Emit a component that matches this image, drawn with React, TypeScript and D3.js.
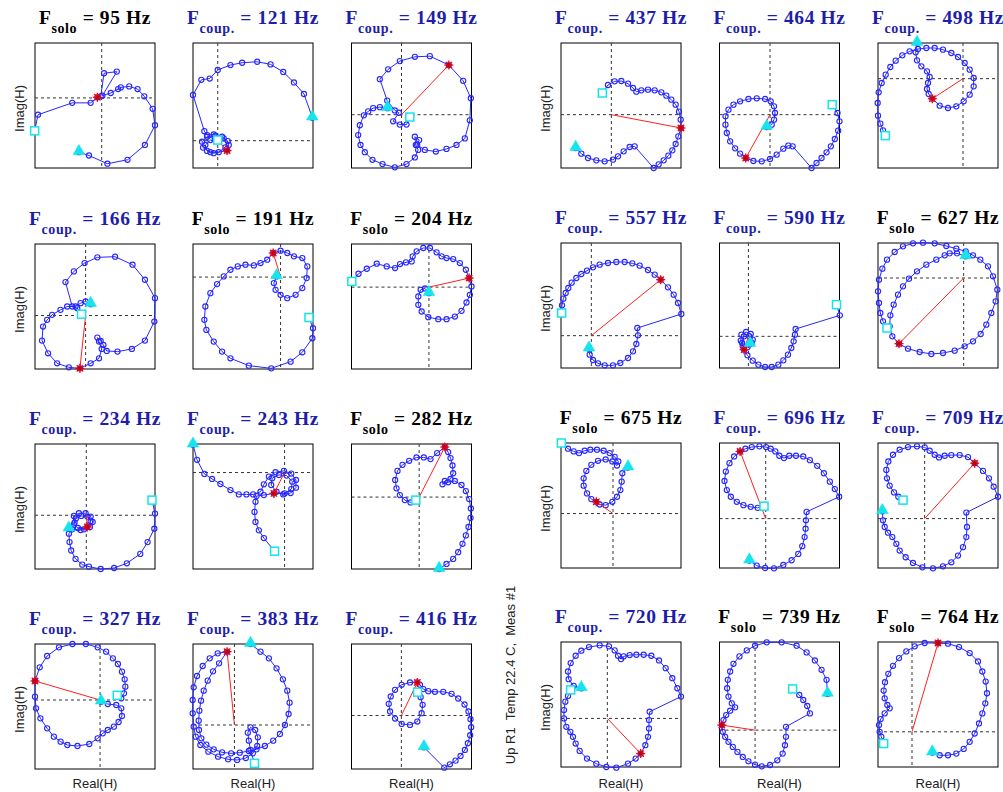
import React from 'react';
import * as d3 from 'd3';

// mode frequencies and whether each mode is "solo" or "coupled"
const freqs = [95, 121, 149, 166, 191, 204, 234, 243, 282, 327, 383, 416, 437, 464, 498, 557, 590, 627, 675, 696, 709, 720, 739, 764];
const kinds = ['solo', 'coup.', 'coup.', 'coup.', 'solo', 'solo', 'coup.', 'coup.', 'solo', 'coup.', 'coup.', 'coup.',
  'coup.', 'coup.', 'coup.', 'coup.', 'coup.', 'solo', 'solo', 'coup.', 'coup.', 'coup.', 'solo', 'solo'];

// axis limits (Real, Imag) for each panel
const realLimits = [[-199, 159], [-74, 285], [-150, 210], [-151, 207], [-262, 97], [-233, 128], [-153, 205], [-274, 85], [-203, 157], [-193, 163], [-124, 235], [-150, 211],
  [-151, 209], [-152, 209], [-255, 105], [-91, 269], [-87, 274], [-257, 103], [-156, 204], [-139, 222], [-140, 220], [-139, 221], [-107, 254], [-102, 258]];
const imagLimits = [[-213, 167], [-83, 297], [-162, 218], [-160, 214], [-275, 99], [-245, 129], [-160, 212], [-287, 85], [-214, 158], [-207, 168], [-132, 243], [-160, 214],
  [-160, 215], [-160, 215], [-268, 107], [-97, 278], [-95, 280], [-270, 105], [-162, 210], [-147, 225], [-147, 225], [-145, 228], [-110, 263], [-105, 268]];

// peak response point (red star) per panel
const peaks = [[-13, 2], [28, -30], [142, 151], [-17, -158], [-22, 72], [121, 27], [3, -35], [-32, -62], [77, 149], [-193, 57], [-22, 220], [48, 99],
  [209, -40], [-73, -130], [-92, -60], [208, 168], [-13, -40], [-194, -197], [-50, 35], [-77, 200], [150, 165], [100, -105], [-100, 15], [78, 265]];

// Nyquist curves: [Real(H), Imag(H)], first point = triangle, last point = square
const h095 = [[-68, -165], [-38, -175], [17, -200], [77, -188], [129, -143], [159, -83], [152, -33], [127, 5], [107, 27], [82, 35], [57, 32], [49, 27], [27, 15], [2, 7], [45, 80], [7, 75], [-3, 5], [-13, 2], [-33, -15], [-88, -15], [-190, -51], [-200, -100]];
const h121 = [[283, 70], [258, 142], [228, 177], [196, 209], [158, 232], [118, 240], [73, 237], [38, 230], [0, 215], [-24, 189], [-49, 185], [-74, 139], [-40, 29], [-32, 17], [-12, 19], [13, 12], [30, -1], [23, -20], [3, -35], [-22, -35], [-44, -21], [-47, -3], [-32, 12], [-7, 15], [18, 7], [33, -13], [28, -30], [-12, -38], [-32, -31], [-37, -13], [-22, 2], [0, 2]];
const h149 = [[-42, 20], [-65, 23], [-85, 20], [-100, 10], [-113, -2], [-125, -32], [-130, -62], [-123, -92], [-110, -114], [-87, -137], [-57, -150], [-20, -160], [15, -150], [40, -130], [50, -107], [43, -92], [40, -67], [53, -77], [47, -92], [70, -107], [103, -112], [135, -104], [165, -92], [190, -72], [205, -17], [208, 50], [185, 103], [142, 151], [85, 178], [40, 176], [-5, 163], [-40, 138], [-65, 108], [-43, 43], [-20, 13], [-8, 6], [-25, -20], [-5, -30], [15, -30], [25, -7]];
const h166 = [[15, 34], [0, 42], [-15, 37], [-30, 27], [-55, 27], [-75, 17], [-100, 2], [-115, -13], [-127, -33], [-130, -75], [-112, -113], [-85, -143], [-50, -155], [-17, -158], [15, -143], [40, -128], [48, -100], [40, -78], [35, -66], [45, -76], [53, -88], [63, -106], [95, -108], [138, -100], [177, -75], [205, -18], [207, 52], [177, 107], [140, 152], [88, 176], [35, 174], [-3, 157], [-35, 132], [-60, 100], [-40, 27], [-25, 22], [-12, 4]];
const h191 = [[-12, 2], [-20, -18], [-15, -38], [0, -53], [20, -63], [45, -53], [65, -33], [78, -3], [80, 32], [65, 57], [40, 62], [20, 72], [0, 79], [-22, 72], [-40, 52], [-60, 42], [-80, 35], [-105, 37], [-128, 32], [-150, 22], [-170, 2], [-190, -21], [-210, -48], [-225, -88], [-228, -128], [-222, -158], [-200, -193], [-175, -223], [-150, -243], [-95, -265], [-28, -273], [30, -253], [65, -225], [95, -183], [97, -153], [85, -121]];
const h204 = [[0, -18], [-12, -4], [-25, -8], [-32, -28], [-32, -53], [-22, -73], [-2, -90], [28, -96], [53, -96], [78, -88], [98, -71], [113, -46], [123, -23], [128, 2], [121, 27], [111, 52], [93, 72], [73, 84], [53, 87], [38, 92], [23, 104], [3, 117], [-17, 117], [-37, 107], [-49, 92], [-52, 77], [-69, 74], [-87, 69], [-102, 57], [-127, 62], [-157, 70], [-187, 55], [-212, 40], [-232, 17]];
const h234 = [[-52, -40], [-35, -22], [-37, -2], [-22, 6], [-2, 6], [13, -4], [19, -20], [11, -35], [-7, -42], [-25, -38], [-37, -28], [-31, -10], [-15, -2], [3, -4], [13, -18], [3, -35], [-17, -44], [-42, -42], [-52, -55], [-50, -80], [-45, -105], [-32, -130], [-12, -147], [8, -153], [43, -160], [83, -157], [121, -143], [161, -115], [183, -80], [203, -40], [205, 5], [196, 45]];
const h243 = [[-274, 83], [-262, 38], [-240, -4], [-217, -19], [-192, -34], [-162, -52], [-137, -65], [-114, -65], [-94, -65], [-72, -57], [-62, -35], [-47, -12], [-27, 1], [-2, 5], [20, -3], [34, -22], [34, -45], [18, -61], [-4, -65], [-24, -57], [-40, -37], [-37, -17], [-17, -7], [6, -9], [23, -27], [20, -49], [0, -62], [-32, -62], [-62, -67], [-84, -70], [-87, -87], [-90, -117], [-87, -147], [-77, -172], [-62, -195], [-30, -234]];
const h282 = [[60, -214], [82, -199], [102, -184], [117, -164], [130, -139], [140, -114], [148, -89], [154, -62], [155, -34], [150, -6], [140, 18], [127, 36], [107, 48], [87, 44], [70, 38], [77, 48], [94, 54], [102, 71], [100, 94], [94, 116], [87, 134], [77, 149], [54, 131], [34, 113], [14, 118], [-8, 118], [-30, 108], [-50, 96], [-65, 78], [-72, 51], [-68, 26], [-58, 6], [-43, -9], [-26, -16], [-10, -9]];
const h327 = [[3, -5], [23, -12], [48, -15], [63, -25], [65, -48], [55, -66], [41, -80], [23, -90], [8, -100], [-7, -115], [-32, -132], [-67, -138], [-97, -135], [-117, -125], [-137, -110], [-157, -85], [-177, -55], [-190, -25], [-193, 10], [-193, 57], [-179, 98], [-157, 132], [-122, 158], [-82, 168], [-42, 168], [-7, 158], [18, 145], [38, 125], [53, 108], [65, 85], [73, 62], [75, 40], [71, 20], [63, 5], [51, 14]];
const h383 = [[48, 243], [78, 220], [103, 200], [126, 170], [145, 137], [158, 103], [165, 67], [162, 33], [151, 0], [136, -27], [116, -47], [91, -63], [66, -73], [43, -78], [16, -83], [-10, -85], [-37, -82], [-62, -73], [-84, -59], [-99, -40], [-106, -15], [-107, 13], [-105, 43], [-100, 73], [-92, 103], [-80, 133], [-64, 161], [-46, 185], [-22, 220], [-50, 215], [-74, 200], [-95, 177], [-112, 147], [-122, 113], [-125, 75], [-125, 35], [-122, -5], [-116, -35], [-102, -60], [-78, -80], [-49, -95], [-19, -103], [8, -105], [34, -99], [55, -85], [68, -63], [70, -37], [62, -15], [48, -7], [40, -23], [43, -47], [48, -75], [60, -115]];
const h416 = [[68, -95], [129, -156], [146, -146], [163, -135], [178, -121], [191, -103], [200, -83], [207, -59], [210, -35], [208, -11], [202, 12], [190, 33], [171, 51], [151, 65], [126, 71], [101, 71], [81, 73], [66, 79], [56, 92], [48, 99], [26, 99], [1, 92], [-19, 77], [-32, 57], [-38, 35], [-34, 12], [-19, -9], [1, -25], [26, -28], [48, -18], [61, 7], [64, 32], [58, 55], [49, 70]];
const h437 = [[-107, -100], [-90, -117], [-70, -130], [-45, -137], [-20, -140], [5, -135], [20, -125], [37, -110], [55, -97], [70, -95], [127, -160], [142, -149], [157, -137], [171, -123], [183, -107], [193, -88], [201, -65], [209, -40], [208, -15], [203, 9], [193, 30], [180, 45], [165, 57], [150, 67], [130, 73], [110, 75], [90, 73], [75, 69], [65, 80], [50, 93], [30, 101], [10, 100], [-10, 89], [-27, 65]];
const h464 = [[-10, -37], [5, -30], [12, -15], [15, 5], [12, 25], [2, 40], [-15, 47], [-40, 49], [-65, 47], [-90, 40], [-110, 30], [-125, 15], [-134, -5], [-134, -30], [-130, -55], [-120, -80], [-105, -101], [-90, -117], [-73, -130], [-50, -139], [-25, -140], [0, -133], [20, -120], [40, -102], [55, -93], [68, -95], [125, -160], [140, -145], [155, -130], [170, -113], [183, -95], [195, -73], [205, -48], [209, -20], [203, 5], [187, 30]];
const h498 = [[-138, 107], [-142, 79], [-138, 55], [-125, 37], [-108, 22], [-100, 5], [-105, -13], [-108, -31], [-103, -46], [-92, -60], [-70, -81], [-45, -88], [-20, -83], [2, -68], [20, -48], [32, -23], [32, 2], [20, 27], [5, 47], [-15, 65], [-35, 77], [-60, 87], [-85, 92], [-110, 92], [-135, 89], [-160, 82], [-182, 70], [-202, 54], [-218, 35], [-232, 12], [-244, -13], [-253, -41], [-256, -73], [-255, -111], [-248, -135], [-240, -155], [-233, -171]];
const h557 = [[-7, -39], [-5, -57], [5, -73], [20, -83], [40, -89], [65, -89], [87, -82], [110, -67], [125, -47], [135, -25], [140, 1], [138, 23], [270, 65], [260, 98], [247, 123], [230, 145], [208, 168], [190, 183], [170, 197], [145, 210], [123, 217], [100, 221], [75, 221], [50, 218], [25, 213], [5, 205], [-13, 195], [-30, 185], [-45, 173], [-59, 159], [-69, 143], [-77, 128], [-84, 111], [-88, 91], [-89, 68]];
const h590 = [[5, -23], [13, -10], [7, 7], [-7, 13], [-21, 5], [-23, -13], [-17, -30], [-3, -33], [10, -20], [3, 0], [-13, 0], [-19, -20], [-13, -40], [-3, -57], [13, -73], [30, -85], [50, -92], [70, -92], [90, -85], [105, -72], [119, -55], [129, -35], [136, -15], [140, 5], [142, 22], [275, 63], [265, 95]];
const h627 = [[6, 65], [-20, 74], [-42, 74], [-57, 68], [-82, 55], [-112, 40], [-140, 20], [-164, -2], [-182, -25], [-197, -50], [-210, -80], [-220, -112], [-222, -145], [-214, -175], [-194, -197], [-167, -212], [-132, -222], [-97, -228], [-62, -225], [-27, -218], [3, -205], [28, -190], [51, -168], [68, -140], [83, -105], [96, -70], [101, -35], [88, 5], [73, 35], [50, 55], [28, 68], [6, 80], [-22, 88], [-52, 96], [-87, 104], [-122, 106], [-152, 104], [-182, 95], [-207, 78], [-230, 55], [-244, 28], [-254, -5], [-257, -40], [-254, -75], [-250, -105], [-242, -130], [-230, -150]];
const h675 = [[45, 137], [28, 120], [26, 95], [22, 70], [12, 50], [-2, 35], [-22, 25], [-40, 27], [-50, 35], [-65, 43], [-78, 60], [-88, 83], [-88, 105], [-80, 127], [-65, 145], [-45, 157], [-22, 161], [-2, 155], [12, 143], [16, 155], [5, 169], [-10, 180], [-28, 187], [-48, 190], [-68, 190], [-85, 187], [-102, 180], [-118, 185], [-135, 193], [-155, 210]];
const h696 = [[-49, -125], [-27, -140], [-2, -147], [25, -148], [53, -138], [78, -124], [98, -105], [110, -82], [117, -55], [120, -30], [121, -5], [123, 20], [221, 65], [208, 88], [193, 110], [175, 135], [155, 157], [133, 174], [113, 185], [91, 187], [71, 187], [55, 180], [41, 187], [29, 200], [15, 208], [1, 213], [-19, 215], [-42, 213], [-61, 208], [-77, 200], [-95, 185], [-109, 165], [-120, 140], [-124, 112], [-117, 85], [-105, 65], [-87, 50], [-67, 40], [-45, 35], [-24, 32], [-5, 37]];
const h709 = [[-127, 22], [-125, -5], [-120, -25], [-110, -42], [-97, -55], [-85, -75], [-75, -95], [-57, -115], [-35, -132], [-7, -145], [25, -148], [55, -142], [80, -130], [100, -110], [115, -85], [125, -55], [127, -25], [125, 18], [220, 65], [207, 95], [193, 120], [175, 142], [150, 165], [130, 183], [105, 189], [80, 189], [60, 187], [43, 182], [30, 190], [15, 202], [0, 212], [-23, 215], [-50, 213], [-75, 205], [-95, 190], [-109, 170], [-115, 145], [-113, 120], [-105, 98], [-92, 78], [-79, 65], [-65, 55]];
const h720 = [[-78, 90], [-101, 97], [-116, 117], [-118, 140], [-110, 165], [-95, 187], [-78, 202], [-55, 213], [-23, 218], [5, 215], [22, 203], [32, 187], [41, 177], [49, 185], [67, 189], [87, 190], [109, 190], [132, 187], [155, 173], [175, 150], [195, 120], [210, 90], [221, 65], [127, 20], [125, -5], [125, -30], [122, -55], [114, -80], [100, -105], [85, -120], [62, -135], [27, -147], [-3, -145], [-33, -135], [-61, -120], [-83, -97], [-95, -75], [-103, -55], [-111, -40], [-123, -25], [-130, 0], [-130, 25], [-126, 50], [-118, 67], [-110, 85]];
const h739 = [[218, 108], [215, 150], [200, 180], [180, 208], [155, 232], [125, 252], [80, 262], [35, 262], [0, 252], [-25, 238], [-47, 220], [-65, 198], [-75, 175], [-82, 150], [-84, 125], [-80, 100], [-70, 80], [-60, 68], [-75, 58], [-87, 45], [-95, 30], [-100, 15], [-97, -5], [-90, -20], [-80, -35], [-67, -50], [-53, -65], [-37, -80], [-20, -93], [0, -103], [20, -108], [45, -104], [67, -90], [83, -70], [90, -45], [93, -20], [93, 10], [165, 50], [157, 72], [145, 90], [133, 105], [113, 123]];
const h764 = [[61, -62], [83, -70], [108, -70], [133, -65], [155, -51], [173, -30], [188, -5], [201, 25], [211, 55], [220, 85], [225, 115], [221, 150], [211, 180], [198, 210], [173, 235], [141, 253], [108, 263], [78, 265], [38, 265], [8, 255], [-17, 240], [-39, 220], [-57, 197], [-71, 173], [-81, 148], [-85, 123], [-82, 100], [-74, 80], [-67, 70], [-82, 55], [-94, 38], [-99, 20], [-97, 0], [-92, -15], [-85, -35]];

const curves = [h095, h121, h149, h166, h191, h204, h234, h243, h282, h327, h383, h416,
  h437, h464, h498, h557, h590, h627, h675, h696, h709, h720, h739, h764];

// layout
const colLeft = [35, 193, 351.5, 561, 719.5, 878];
const rowTop = [[43, 244, 444, 644], [43, 243, 443, 642]];
const boxW = 120;
const boxH = 125;

const serif = '"Liberation Serif", "Times New Roman", serif';
const sans = '"Liberation Sans", Arial, sans-serif';
const blue = '#2626ff';
const cyan = '#14e4ec';

const Panel = ({ i }: { i: number }) => {
  const group = i < 12 ? 0 : 1;
  const local = i % 12;
  const row = Math.floor(local / 3);
  const col = (local % 3) + group * 3;
  const left = colLeft[col];
  const top = rowTop[group][row];

  const x = d3.scaleLinear().domain(realLimits[i]).range([left, left + boxW]);
  const y = d3.scaleLinear().domain(imagLimits[i]).range([top + boxH, top]);
  const data = curves[i];
  const line = d3.line<number[]>().x(d => x(d[0])).y(d => y(d[1]));
  const first = data[0];
  const last = data[data.length - 1];
  const pk = peaks[i];
  const px = x(pk[0]);
  const py = y(pk[1]);
  const tri = d3.symbol(d3.symbolTriangle, 60)();
  const isCoup = kinds[i] !== 'solo';

  return (
    <g>
      <text x={left + boxW / 2} y={top - 19} textAnchor="middle" fontFamily={serif} fontWeight="bold"
        fontSize={19.5} letterSpacing={0.6} fill={isCoup ? '#1e1eaa' : '#000'}>
        F<tspan fontSize={14} dy={9}>{kinds[i]}</tspan>
        <tspan dy={-9}>{` = ${freqs[i]} Hz`}</tspan>
      </text>
      <rect x={left} y={top} width={boxW} height={boxH} fill="#fff" stroke="#000" strokeWidth={1} />
      <line x1={x(0)} x2={x(0)} y1={top} y2={top + boxH} stroke="#333" strokeDasharray="3,3" />
      <line x1={left} x2={left + boxW} y1={y(0)} y2={y(0)} stroke="#333" strokeDasharray="3,3" />
      <path d={line(data) || ''} fill="none" stroke={blue} strokeWidth={1} />
      {data.map((d, k) => (
        <circle key={k} cx={x(d[0])} cy={y(d[1])} r={2.6} fill="none" stroke={blue} strokeWidth={1.1} />
      ))}
      <line x1={x(0)} y1={y(0)} x2={px} y2={py} stroke="#ff2020" strokeWidth={1} />
      <g transform={`translate(${px},${py})`} stroke="#ff0000" strokeWidth={1.3}>
        <line x1={-4.5} x2={4.5} y1={0} y2={0} />
        <line x1={0} x2={0} y1={-4.5} y2={4.5} />
        <line x1={-3.2} x2={3.2} y1={-3.2} y2={3.2} />
        <line x1={-3.2} x2={3.2} y1={3.2} y2={-3.2} />
        <circle r={2} fill="#c00000" stroke="none" />
      </g>
      <path d={tri || ''} transform={`translate(${x(first[0])},${y(first[1]) - 1})`} fill={cyan} stroke={cyan} strokeWidth={0.5} />
      <rect x={x(last[0]) - 4} y={y(last[1]) - 4} width={8} height={8} fill="#fff" stroke={cyan} strokeWidth={1.5} />
      {(col === 0 || col === 3) && (
        <text transform={`translate(${left - 16},${top + boxH / 2 + 3}) rotate(-90)`} textAnchor="middle"
          dominantBaseline="central" fontFamily={sans} fontSize={13} fill="#222">Imag(H)</text>
      )}
      {row === 3 && (
        <text x={left + boxW / 2} y={788} textAnchor="middle" fontFamily={sans} fontSize={13} fill="#222">Real(H)</text>
      )}
    </g>
  );
};

const App = () => (
  <svg width={1003} height={792} style={{ position: 'absolute', left: 0, top: 0, background: '#fff' }}>
    <rect width={1003} height={792} fill="#fff" />
    {freqs.map((f, i) => <Panel key={f} i={i} />)}
    <text transform="translate(510,675) rotate(-90)" textAnchor="middle" dominantBaseline="central"
      fontFamily={sans} fontSize={13} fill="#222" style={{ whiteSpace: 'pre' }}>
      {'Up R1  Temp 22.4 C,  Meas #1'}
    </text>
  </svg>
);

export default App;
